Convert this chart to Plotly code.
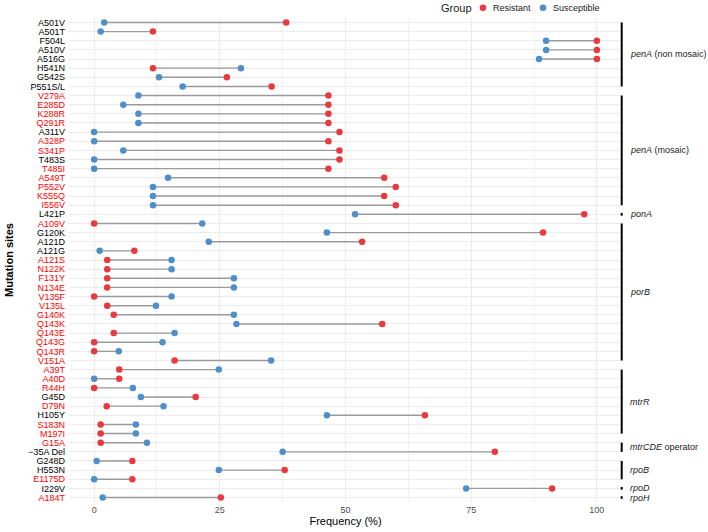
import plotly.graph_objects as go

# ---------------- data ----------------
mutations = ["A501V", "A501T", "F504L", "A510V", "A516G", "H541N", "G542S", "P551S/L",
             "V279A", "E285D", "K288R", "Q291R", "A311V", "A328P", "S341P", "T483S", "T485I",
             "A549T", "P552V", "K555Q", "I556V",
             "L421P",
             "A109V", "G120K", "A121D", "A121G", "A121S", "N122K", "F131Y", "N134E", "V135F",
             "V135L", "G140K", "Q143K", "Q143E", "Q143G", "Q143R", "V151A",
             "A39T", "A40D", "R44H", "G45D", "D79N", "H105Y", "S183N", "M197I",
             "G15A", "\u221235A Del",
             "G248D", "H553N", "E1175D",
             "I229V",
             "A184T"]

resistant = [38.2, 11.7, 100, 100, 100, 11.7, 26.4, 35.3,
             46.6, 46.6, 46.6, 46.6, 48.8, 46.6, 48.8, 48.8, 46.6,
             57.7, 60.0, 57.7, 60.0,
             97.5,
             0.0, 89.3, 53.3, 8.0, 2.6, 2.6, 2.6, 2.6, 0.0,
             2.6, 3.9, 57.3, 3.9, 0.0, 0.0, 16.0,
             5.0, 5.0, 0.0, 20.2, 2.5, 65.8, 1.3, 1.3,
             1.3, 79.7,
             7.6, 37.9, 7.6,
             91.1,
             25.2]

susceptible = [2.0, 1.3, 89.9, 89.9, 88.5, 29.2, 12.9, 17.6,
               8.8, 5.8, 8.8, 8.8, 0.0, 0.0, 5.8, 0.0, 0.0,
               14.7, 11.7, 11.7, 11.7,
               51.9,
               21.5, 46.3, 22.8, 1.1, 15.4, 15.4, 27.8, 27.8, 15.4,
               12.3, 27.8, 28.3, 16.0, 13.6, 4.9, 35.2,
               24.8, 0.0, 7.7, 9.3, 13.8, 46.3, 8.3, 8.3,
               10.5, 37.5,
               0.5, 24.8, 0.0,
               74.0,
               1.7]

red_labels = {"V279A", "E285D", "K288R", "Q291R", "A328P", "S341P", "T485I", "A549T",
              "P552V", "K555Q", "I556V", "A109V", "A121S", "N122K", "F131Y", "N134E",
              "V135F", "V135L", "G140K", "Q143K", "Q143E", "Q143G", "Q143R", "V151A",
              "A39T", "A40D", "R44H", "D79N", "S183N", "M197I", "G15A", "E1175D", "A184T"}

# gene groups: (italic gene, suffix, first row, last row)
gene_names = ["penA", "penA", "ponA", "porB", "mtrR", "mtrCDE", "rpoB", "rpoD", "rpoH"]
gene_suffix = [" (non mosaic)", " (mosaic)", "", "", "", " operator", "", "", ""]
gene_first = ["A501V", "V279A", "L421P", "A109V", "A39T", "G15A", "G248D", "I229V", "A184T"]
gene_last = ["P551S/L", "I556V", "L421P", "V151A", "M197I", "\u221235A Del", "E1175D", "I229V", "A184T"]

x_ticks = [0, 25, 50, 75, 100]
group_names = ["Resistant", "Susceptible"]

RED = "#E8393E"
BLUE = "#4F8FC9"
FONT = "Liberation Sans, Arial, sans-serif"

W, H = 708, 532
ML, MR, MT, MB = 69, 86, 17, 29
PW, PH = W - ML - MR, H - MT - MB


def px_x(p):
    return (p - ML) / PW


def px_y(p):
    return (H - MB - p) / PH


# ---------------- figure ----------------
fig = go.Figure()

seg_x, seg_y = [], []
for m, r, s in zip(mutations, resistant, susceptible):
    seg_x += [s, r, None]
    seg_y += [m, m, None]
fig.add_trace(go.Scatter(x=seg_x, y=seg_y, mode="lines",
                         line=dict(color="#9A9A9A", width=1.4),
                         showlegend=False, hoverinfo="skip"))

fig.add_trace(go.Scatter(x=resistant, y=mutations, mode="markers", name=group_names[0],
                         marker=dict(color=RED, size=6.5), showlegend=False))
fig.add_trace(go.Scatter(x=susceptible, y=mutations, mode="markers", name=group_names[1],
                         marker=dict(color=BLUE, size=6.5), showlegend=False))

tick_text = [f'<span style="color:#FF0000">{m}</span>' if m in red_labels else m
             for m in mutations]

n = len(mutations)
fig.update_layout(
    width=W, height=H,
    margin=dict(l=ML, r=MR, t=MT, b=MB, autoexpand=False),
    paper_bgcolor="white", plot_bgcolor="white",
    font=dict(family=FONT, size=9, color="black"),
    showlegend=False,
    xaxis=dict(range=[-5, 105], tickvals=x_ticks, ticktext=[str(t) for t in x_ticks],
               showgrid=True, gridcolor="#EBEBEB", gridwidth=1, zeroline=False,
               minor=dict(dtick=12.5, tick0=0, showgrid=True, gridcolor="#F2F2F2", gridwidth=0.8),
               tickfont=dict(size=9, color="#4D4D4D"), ticks="", showline=False,
               title=dict(text="Frequency (%)", font=dict(size=11, color="black"), standoff=2)),
    yaxis=dict(type="category", categoryorder="array", categoryarray=mutations,
               range=[n - 1 + 0.6, -0.6], tickvals=mutations, ticktext=tick_text,
               showgrid=True, gridcolor="#EBEBEB", gridwidth=1, zeroline=False,
               tickfont=dict(size=9, color="black"), ticks="", ticklabelstandoff=3,
               title=dict(text="<b>Mutation sites</b>", font=dict(size=11, color="black"),
                          standoff=12)),
)

# manual legend (top)
fig.add_annotation(xref="paper", yref="paper", x=px_x(439), y=px_y(7.5), xanchor="left",
                   yanchor="middle", showarrow=False, text="Group",
                   font=dict(size=11, color="#1a1a1a"))
for name, col, dot_px, txt_px in zip(group_names, [RED, BLUE], [483, 543], [490.5, 550.5]):
    fig.add_shape(type="circle", xref="paper", yref="paper",
                  xsizemode="pixel", ysizemode="pixel",
                  xanchor=px_x(dot_px), yanchor=px_y(7.7),
                  x0=-3.3, x1=3.3, y0=-3.3, y1=3.3,
                  fillcolor=col, line=dict(width=0))
    fig.add_annotation(xref="paper", yref="paper", x=px_x(txt_px), y=px_y(7.7), xanchor="left",
                       yanchor="middle", showarrow=False, text=name,
                       font=dict(size=9, color="#1a1a1a"))

# gene brackets on the right
bx = px_x(621.7)
for g, suf, f, l in zip(gene_names, gene_suffix, gene_first, gene_last):
    i0 = mutations.index(f)
    i1 = mutations.index(l)
    if i0 == i1:
        y0, y1 = i0 - 0.15, i1 + 0.15
    else:
        y0, y1 = i0, i1
    fig.add_shape(type="line", xref="paper", yref="y", x0=bx, x1=bx, y0=y0, y1=y1,
                  line=dict(color="black", width=2))
    fig.add_annotation(xref="paper", yref="y", x=px_x(628), y=(i0 + i1) / 2,
                       xanchor="left", yanchor="middle", showarrow=False,
                       text=f"<i>{g}</i>{suf}", font=dict(size=9, color="#1a1a1a"))

fig.write_html("out.html")
